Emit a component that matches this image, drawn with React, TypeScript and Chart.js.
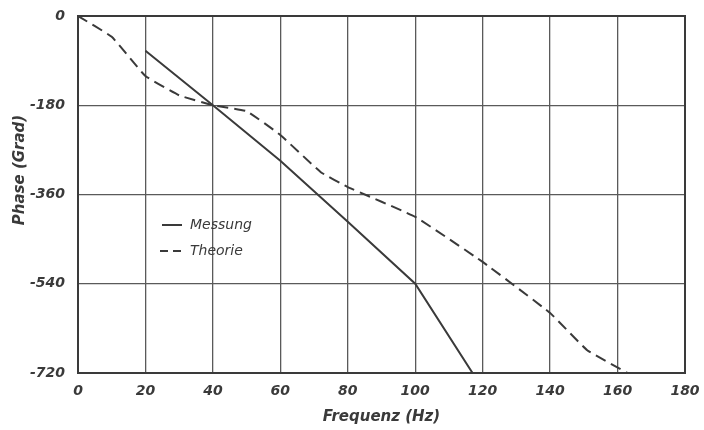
import React, { useEffect, useRef } from "react";
import { Chart, registerables } from "chart.js";

Chart.register(...registerables);

const messungX = [20, 40, 60, 80, 100, 117];
const messungY = [-70, -180, -292, -415, -540, -720];
const theorieX = [0, 10, 20, 30, 40, 50, 60, 72, 80, 100, 120, 140, 151, 163];
const theorieY = [0, -42, -121, -160, -180, -192, -240, -315, -345, -405, -496, -599, -674, -720];
const xTicks = [0, 20, 40, 60, 80, 100, 120, 140, 160, 180];
const yTicks = [0, -180, -360, -540, -720];
const seriesNames = ["Messung", "Theorie"];
const xTitle = "Frequenz (Hz)";
const yTitle = "Phase (Grad)";

const INK = "#3a3a3a";
const GRID = "#5a5a5a";
const FONT = "'DejaVu Sans', sans-serif";

const overlay = {
  id: "overlay",
  afterDraw(chart: any) {
    const ctx = chart.ctx;
    const a = chart.chartArea;
    ctx.save();
    ctx.strokeStyle = INK;
    ctx.fillStyle = INK;
    ctx.lineWidth = 2;
    ctx.font = `italic 14px ${FONT}`;
    ctx.textBaseline = "middle";
    const lx = a.left + 82;
    const ly1 = a.top + 209;
    const ly2 = a.top + 235;
    ctx.setLineDash([]);
    ctx.beginPath();
    ctx.moveTo(lx + 2, ly1);
    ctx.lineTo(lx + 22, ly1);
    ctx.stroke();
    ctx.fillText(seriesNames[0], lx + 30, ly1);
    ctx.setLineDash([8, 5]);
    ctx.beginPath();
    ctx.moveTo(lx, ly2);
    ctx.lineTo(lx + 26, ly2);
    ctx.stroke();
    ctx.setLineDash([]);
    ctx.fillText(seriesNames[1], lx + 30, ly2);
    ctx.translate(20, 170);
    ctx.rotate(-Math.PI / 2);
    ctx.textAlign = "center";
    ctx.font = `italic bold 15px ${FONT}`;
    ctx.fillText(yTitle, 0, 0);
    ctx.restore();
  },
};

const zeroPad = (s: any) => {
  s.paddingLeft = 0;
  s.paddingRight = 0;
  s.paddingTop = 0;
  s.paddingBottom = 0;
};

export default function App() {
  const ref = useRef<HTMLCanvasElement | null>(null);
  useEffect(() => {
    if (!ref.current) return;
    const chart = new Chart(ref.current, {
      type: "line",
      data: {
        datasets: [
          {
            label: seriesNames[0],
            data: messungX.map((x, i) => ({ x, y: messungY[i] })),
            borderColor: INK,
            borderWidth: 2,
            pointRadius: 0,
            tension: 0,
          },
          {
            label: seriesNames[1],
            data: theorieX.map((x, i) => ({ x, y: theorieY[i] })),
            borderColor: INK,
            borderWidth: 2,
            borderDash: [11, 6],
            pointRadius: 0,
            tension: 0.1,
          },
        ],
      },
      plugins: [overlay],
      options: {
        animation: false,
        responsive: false,
        devicePixelRatio: 1,
        layout: { padding: { top: 16, right: 19, left: 0, bottom: 0 } },
        plugins: { legend: { display: false }, tooltip: { enabled: false } },
        scales: {
          x: {
            type: "linear",
            min: 0,
            max: 180,
            afterBuildTicks: (s: any) => {
              s.ticks = xTicks.map((v) => ({ value: v }));
            },
            afterFit: (s: any) => {
              s.height = 57;
              zeroPad(s);
            },
            grid: { color: GRID, lineWidth: 1.3, drawTicks: false },
            border: { color: INK, width: 2 },
            ticks: {
              color: INK,
              padding: 10,
              maxRotation: 0,
              font: { family: FONT, style: "italic", weight: "bold", size: 14 },
            },
            title: {
              display: true,
              text: xTitle,
              color: INK,
              padding: { top: 2 },
              font: { family: FONT, style: "italic", weight: "bold", size: 15 },
            },
          },
          y: {
            type: "linear",
            min: -720,
            max: 0,
            afterBuildTicks: (s: any) => {
              s.ticks = yTicks.map((v) => ({ value: v }));
            },
            afterFit: (s: any) => {
              s.width = 78;
              zeroPad(s);
            },
            grid: { color: GRID, lineWidth: 1.3, drawTicks: false },
            border: { color: INK, width: 2 },
            ticks: {
              color: INK,
              padding: 13,
              font: { family: FONT, style: "italic", weight: "bold", size: 14 },
            },
          },
          y2: {
            position: "right",
            min: -720,
            max: 0,
            display: true,
            afterFit: (s: any) => {
              s.width = 0;
              zeroPad(s);
            },
            grid: { display: false, drawTicks: false },
            border: { color: INK, width: 2 },
            ticks: { display: false },
          },
          x2: {
            type: "linear",
            position: "top",
            min: 0,
            max: 180,
            display: true,
            afterFit: (s: any) => {
              s.height = 0;
              zeroPad(s);
            },
            grid: { display: false, drawTicks: false },
            border: { color: INK, width: 2 },
            ticks: { display: false },
          },
        },
      },
    });
    return () => chart.destroy();
  }, []);
  return (
    <div style={{ position: "fixed", left: 0, top: 0, width: 704, height: 430, background: "#fff" }}>
      <canvas ref={ref} width={704} height={430} />
    </div>
  );
}
